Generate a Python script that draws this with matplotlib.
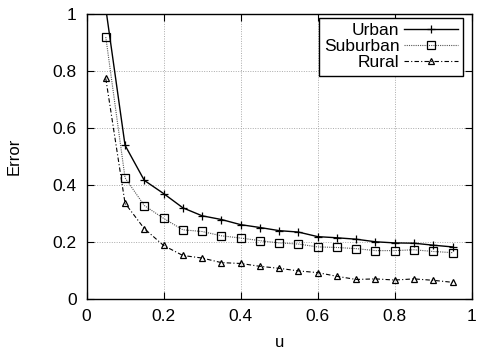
import numpy as np
import matplotlib
matplotlib.use('Agg')
from matplotlib import pyplot as plt

plt.rcParams['font.family'] = ['Liberation Sans', 'DejaVu Sans']

u = [0.05, 0.10, 0.15, 0.20, 0.25, 0.30, 0.35, 0.40, 0.45, 0.50,
     0.55, 0.60, 0.65, 0.70, 0.75, 0.80, 0.85, 0.90, 0.95]
urban = [1.02, 0.54, 0.417, 0.371, 0.321, 0.293, 0.280, 0.262, 0.252, 0.241,
         0.236, 0.220, 0.216, 0.211, 0.202, 0.198, 0.197, 0.190, 0.184]
suburban = [0.919, 0.426, 0.329, 0.284, 0.244, 0.238, 0.223, 0.215, 0.206, 0.198,
            0.194, 0.184, 0.182, 0.178, 0.171, 0.171, 0.174, 0.168, 0.164]
rural = [0.774, 0.337, 0.248, 0.189, 0.154, 0.145, 0.129, 0.126, 0.116, 0.109,
         0.100, 0.094, 0.081, 0.070, 0.072, 0.068, 0.072, 0.067, 0.060]

fig = plt.figure(figsize=(4.78, 3.49), dpi=100)
ax = fig.add_axes([0.181, 0.142, 0.806, 0.818])

ax.plot(u, urban, color='black', linestyle='-', linewidth=1.0,
        marker='+', markersize=5.5, markeredgewidth=0.9, label='Urban')
ax.plot(u, suburban, color='#555555', linestyle=(0, (1, 1)), linewidth=0.8,
        marker='s', markersize=5.5, markerfacecolor='none',
        markeredgecolor='black', markeredgewidth=0.9, label='Suburban')
ax.plot(u, rural, color='black', linestyle=(0, (4, 2, 1, 2)), linewidth=0.8,
        marker='^', markersize=5, markerfacecolor='none',
        markeredgecolor='black', markeredgewidth=0.9, label='Rural')

ax.set_xlim(0, 1)
ax.set_ylim(0, 1)
ax.set_xticks(np.arange(0, 1.01, 0.2))
ax.set_yticks(np.arange(0, 1.01, 0.2))
ax.set_xticklabels(['0', '0.2', '0.4', '0.6', '0.8', '1'])
ax.set_yticklabels(['0', '0.2', '0.4', '0.6', '0.8', '1'])
ax.tick_params(direction='in', length=5, width=0.8, top=True, right=True,
               labelsize=12.5, pad=7)
ax.grid(True, color='#aaaaaa', linestyle=(0, (1, 1.5)), linewidth=0.7)
for s in ax.spines.values():
    s.set_linewidth(1.0)

ax.set_xlabel('u', fontsize=12, labelpad=8)
ax.set_ylabel('Error', fontsize=12, labelpad=22)

leg = ax.legend(loc='upper right', bbox_to_anchor=(0.977, 0.986),
                markerfirst=False, fancybox=False,
                frameon=True, edgecolor='black', framealpha=1, fontsize=12.5,
                handlelength=3.1, handletextpad=0.25, borderpad=0.3,
                labelspacing=0.05, borderaxespad=0)
leg.get_frame().set_linewidth(1.0)

plt.savefig('out.png', dpi=100)
